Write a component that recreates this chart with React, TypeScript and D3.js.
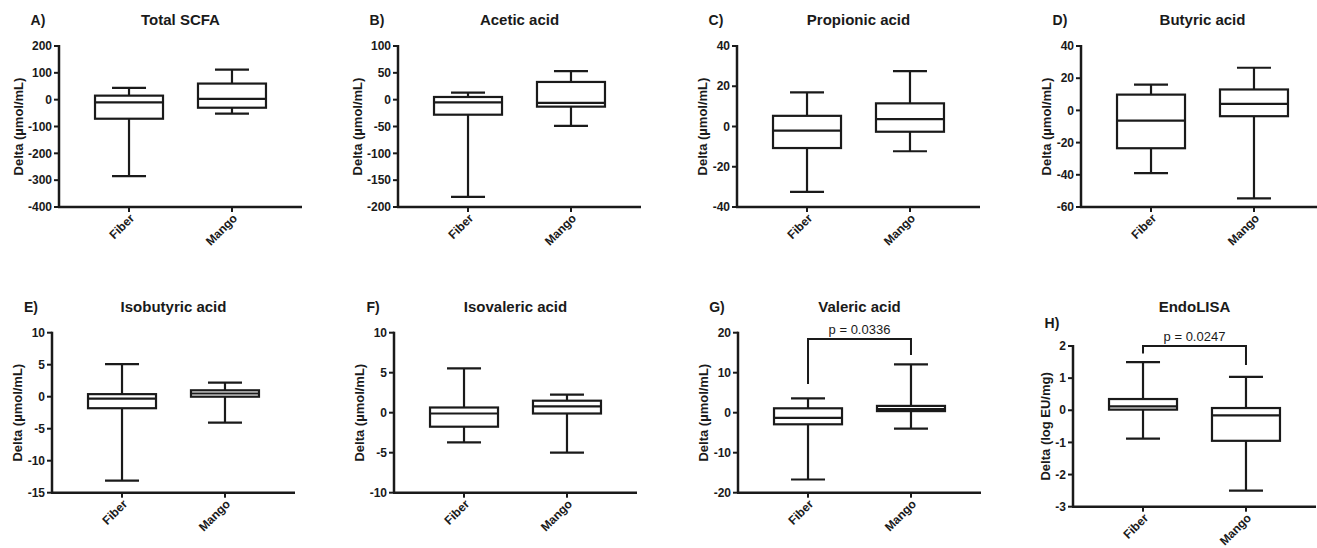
import * as d3 from 'd3'
import { useEffect } from 'react'

// data: [min, q1, median, q3, max] per panel
const groups = ['Fiber', 'Mango']
const panelLetters = ['A)', 'B)', 'C)', 'D)', 'E)', 'F)', 'G)', 'H)']
const panelTitles = ['Total SCFA', 'Acetic acid', 'Propionic acid', 'Butyric acid', 'Isobutyric acid', 'Isovaleric acid', 'Valeric acid', 'EndoLISA']
const yAxisLabels = [
  'Delta (µmol/mL)', 'Delta (µmol/mL)', 'Delta (µmol/mL)', 'Delta (µmol/mL)',
  'Delta (µmol/mL)', 'Delta (µmol/mL)', 'Delta (µmol/mL)', 'Delta (log EU/mg)',
]
const yTicks = [
  [-400, -300, -200, -100, 0, 100, 200],
  [-200, -150, -100, -50, 0, 50, 100],
  [-40, -20, 0, 20, 40],
  [-60, -40, -20, 0, 20, 40],
  [-15, -10, -5, 0, 5, 10],
  [-10, -5, 0, 5, 10],
  [-20, -10, 0, 10, 20],
  [-3, -2, -1, 0, 1, 2],
]
const fiberBoxes = [
  [-285, -71, -10, 15, 44],
  [-181, -28, -5, 5, 13],
  [-32.5, -10.7, -2, 5.3, 17],
  [-39, -23.5, -6.3, 9.8, 16],
  [-13.1, -1.8, -0.3, 0.4, 5.1],
  [-3.7, -1.75, -0.1, 0.65, 5.55],
  [-16.7, -2.9, -1.3, 1.1, 3.6],
  [-0.88, 0.02, 0.12, 0.35, 1.5],
]
const mangoBoxes = [
  [-52, -30, 3, 60, 112],
  [-49, -13, -6, 33, 53],
  [-12.3, -2.6, 3.7, 11.5, 27.5],
  [-54.6, -3.6, 4.1, 13, 26.5],
  [-4.05, 0, 0.5, 1, 2.2],
  [-5, -0.1, 0.8, 1.5, 2.25],
  [-4, 0.4, 0.9, 1.7, 12.1],
  [-2.5, -0.95, -0.16, 0.07, 1.04],
]
const pLabels = ['', '', '', '', '', '', 'p = 0.0336', 'p = 0.0247']
const bracketTops = [null, null, null, null, null, null, 18.4, 2.0]
const bracketLeftEnds = [null, null, null, null, null, null, 7.2, 1.77]
const bracketRightEnds = [null, null, null, null, null, null, 14.4, 1.41]

// layout (pixels) for each panel
const layout = [
  { ax: 59, top: 46, bottom: 207, titleY: 25, letterY: 25 },
  { ax: 398, top: 46, bottom: 207, titleY: 25, letterY: 25 },
  { ax: 737, top: 46, bottom: 207, titleY: 25, letterY: 25 },
  { ax: 1081, top: 46, bottom: 207, titleY: 25, letterY: 25 },
  { ax: 52, top: 332.7, bottom: 492.7, titleY: 312, letterY: 312 },
  { ax: 394, top: 332.7, bottom: 492.7, titleY: 312, letterY: 312 },
  { ax: 738, top: 332.7, bottom: 492.7, titleY: 312, letterY: 312 },
  { ax: 1073, top: 346, bottom: 506.7, titleY: 312, letterY: 328 },
]
const plotWidth = 243
const FONT = '"Liberation Sans", Arial, Helvetica, sans-serif'
const INK = '#1a1a1a'

function textWidth(s: string, size: number) {
  let w = 0
  for (const c of s) w += c === '-' ? 0.333 : c === '.' ? 0.278 : 0.556
  return w * size
}

function BoxPlot({ cx, stats, y }: { cx: number, stats: number[], y: any }) {
  const [mn, q1, med, q3, mx] = stats
  const hw = 34, cw = 17
  return (
    <g stroke={INK} strokeWidth={2.2} fill="none">
      <line x1={cx} x2={cx} y1={y(q3)} y2={y(mx)} />
      <line x1={cx - cw} x2={cx + cw} y1={y(mx)} y2={y(mx)} />
      <line x1={cx} x2={cx} y1={y(q1)} y2={y(mn)} />
      <line x1={cx - cw} x2={cx + cw} y1={y(mn)} y2={y(mn)} />
      <rect x={cx - hw} y={y(q3)} width={hw * 2} height={y(q1) - y(q3)} fill="white" />
      <line x1={cx - hw} x2={cx + hw} y1={y(med)} y2={y(med)} />
    </g>
  )
}

function Panel({ i }: { i: number }) {
  const L = layout[i]
  const ticks = yTicks[i]
  const y = d3.scaleLinear().domain([ticks[0], ticks[ticks.length - 1]]).range([L.bottom, L.top])
  const x = d3.scalePoint().domain(groups).range([L.ax, L.ax + plotWidth]).padding(0.68)
  const maxW = d3.max(ticks, t => textWidth(String(t), 12)) as number
  const labelX = L.ax - (7 + maxW + 10)
  const midY = (L.top + L.bottom) / 2
  const fx = x('Fiber') as number
  const mx = x('Mango') as number
  return (
    <g fontFamily={FONT}>
      <text x={L.ax - 21} y={L.letterY} textAnchor="middle" fontWeight="bold" fontSize={14} fill={INK}>{panelLetters[i]}</text>
      <text x={L.ax + plotWidth / 2} y={L.titleY} textAnchor="middle" fontWeight="bold" fontSize={15} fill={INK}>{panelTitles[i]}</text>
      <text transform={`translate(${labelX},${midY}) rotate(-90)`} textAnchor="middle" dy="0.35em" fontWeight="bold" fontSize={13} fill={INK}>{yAxisLabels[i]}</text>
      {ticks.map(t => (
        <g key={t}>
          <line x1={L.ax - 5} x2={L.ax} y1={y(t)} y2={y(t)} stroke={INK} strokeWidth={2} />
          <text x={L.ax - 7} y={y(t)} dy="0.35em" textAnchor="end" fontWeight="bold" fontSize={12} fill={INK}>{t}</text>
        </g>
      ))}
      <line x1={L.ax} x2={L.ax} y1={L.top - 1} y2={L.bottom} stroke={INK} strokeWidth={2.5} />
      <line x1={L.ax - 1} x2={L.ax + plotWidth} y1={L.bottom} y2={L.bottom} stroke={INK} strokeWidth={2.5} />
      {groups.map(g => (
        <g key={g}>
          <line x1={x(g)} x2={x(g)} y1={L.bottom} y2={L.bottom + 5} stroke={INK} strokeWidth={2} />
          <text transform={`translate(${(x(g) as number) + 6},${L.bottom + 12}) rotate(-45)`} textAnchor="end" fontWeight="bold" fontSize={12} fill={INK}>{g}</text>
        </g>
      ))}
      <BoxPlot cx={fx} stats={fiberBoxes[i]} y={y} />
      <BoxPlot cx={mx} stats={mangoBoxes[i]} y={y} />
      {bracketTops[i] !== null && (
        <g>
          <path d={`M${fx},${y(bracketLeftEnds[i] as number)}V${y(bracketTops[i] as number)}H${mx}V${y(bracketRightEnds[i] as number)}`}
            fill="none" stroke={INK} strokeWidth={2} />
          <text x={(fx + mx) / 2} y={y(bracketTops[i] as number) - 5} textAnchor="middle" fontSize={13} fill={INK}>{pLabels[i]}</text>
        </g>
      )}
    </g>
  )
}

export default function App() {
  useEffect(() => {
    document.body.style.margin = '0'
  }, [])
  return (
    <svg width={1317} height={548} style={{ position: 'absolute', left: 0, top: 0, background: 'white' }}>
      <rect width={1317} height={548} fill="white" />
      {panelTitles.map((_, i) => <Panel key={i} i={i} />)}
    </svg>
  )
}
